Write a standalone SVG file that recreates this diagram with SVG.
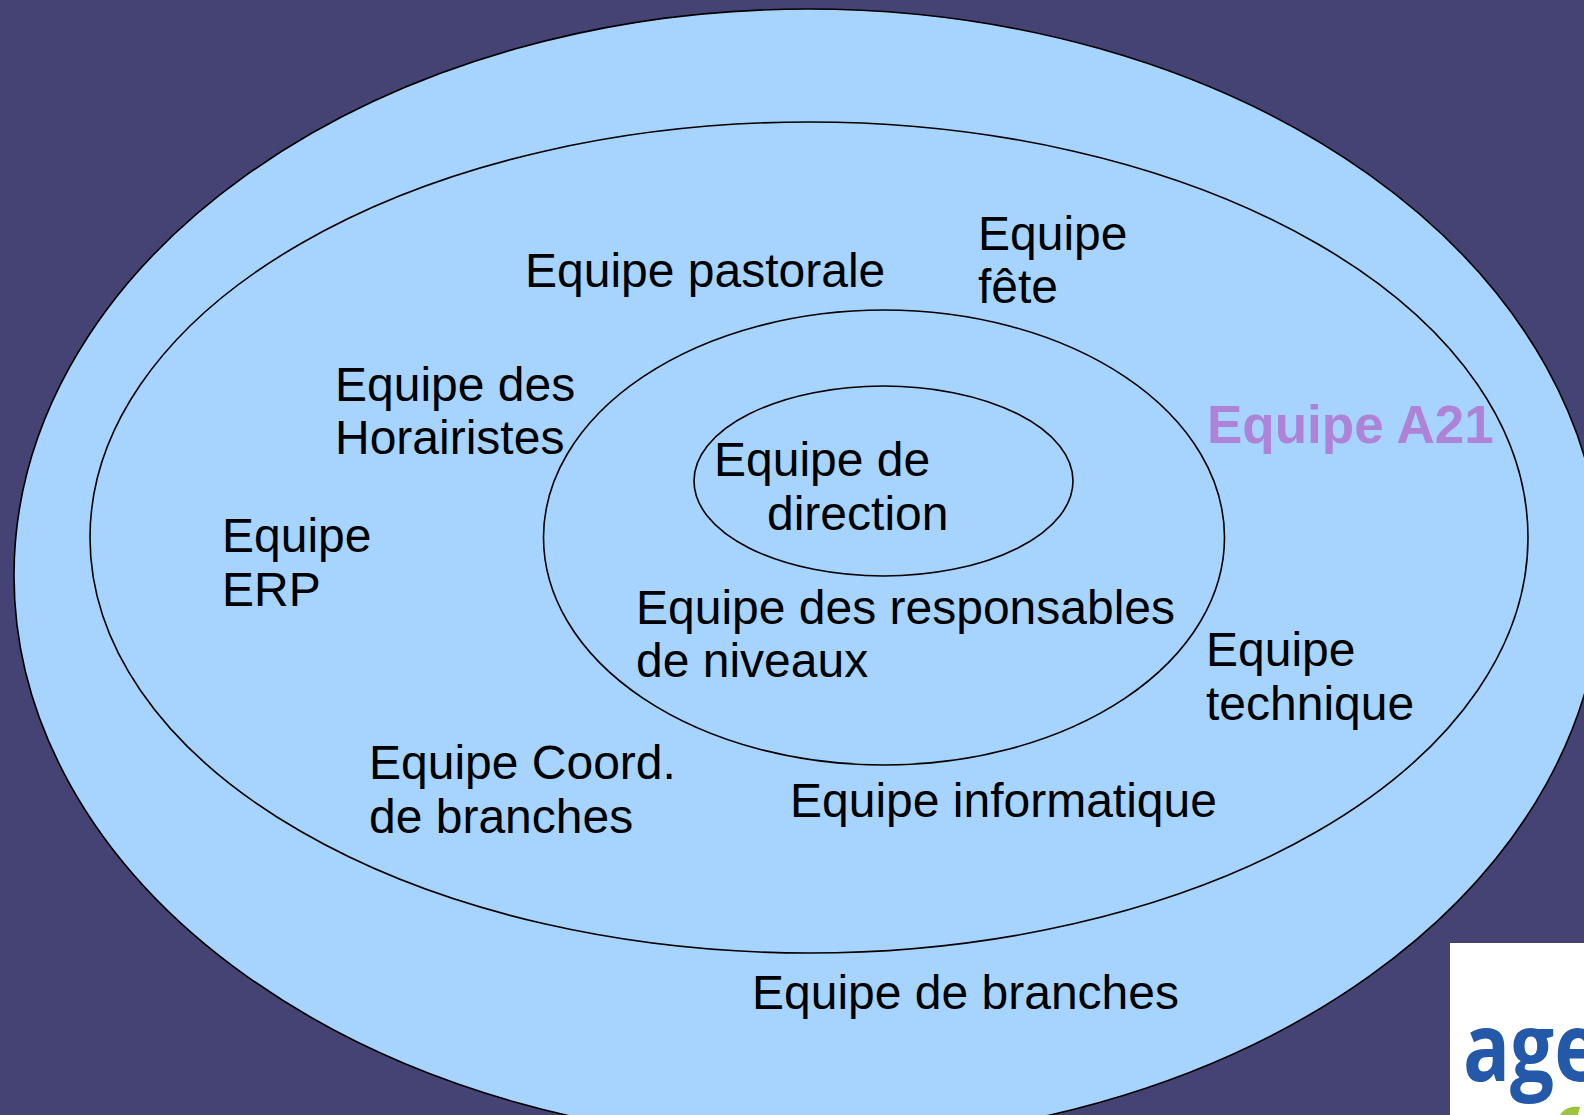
<svg xmlns="http://www.w3.org/2000/svg" width="1584" height="1115" viewBox="0 0 1584 1115">
<style>
.e{fill:#a6d4ff;stroke:#000;stroke-width:1.6}
.t{font-family:"Liberation Sans",Arial,sans-serif;font-size:48px;fill:#000}
.a{font-family:"Liberation Sans",Arial,sans-serif;font-size:53px;font-weight:bold;fill:#ae82d6}
</style>
<rect width="1584" height="1115" fill="#444374"/>
<g id="ellipse-branches"><ellipse class="e" cx="808" cy="575.5" rx="794" ry="566.5"/></g>
<g id="ellipse-middle"><ellipse class="e" cx="809" cy="537.5" rx="719" ry="415.5"/></g>
<g id="ellipse-niveaux"><ellipse class="e" cx="884" cy="537.5" rx="340.5" ry="227.5"/></g>
<g id="ellipse-direction"><ellipse class="e" cx="883.5" cy="481" rx="189.5" ry="95"/></g>
<g id="label-pastorale"><text class="t" x="525" y="287">Equipe pastorale</text></g>
<g id="label-fete"><text class="t" x="978" y="250">Equipe</text><text class="t" x="978" y="303">fête</text></g>
<g id="label-horairistes"><text class="t" x="335" y="401">Equipe des</text><text class="t" x="335" y="454">Horairistes</text></g>
<g id="label-a21"><text class="a" x="1207" y="443">Equipe A21</text></g>
<g id="label-direction"><text class="t" x="714" y="476">Equipe de</text><text class="t" x="767" y="530">direction</text></g>
<g id="label-erp"><text class="t" x="222" y="552">Equipe</text><text class="t" x="222" y="606">ERP</text></g>
<g id="label-responsables"><text class="t" x="636" y="624">Equipe des responsables</text><text class="t" x="636" y="677">de niveaux</text></g>
<g id="label-technique"><text class="t" x="1206" y="666">Equipe</text><text class="t" x="1206" y="720">technique</text></g>
<g id="label-coord"><text class="t" x="369" y="779">Equipe Coord.</text><text class="t" x="369" y="833">de branches</text></g>
<g id="label-informatique"><text class="t" x="790" y="817">Equipe informatique</text></g>
<g id="label-branches"><text class="t" x="752" y="1009">Equipe de branches</text></g>
<g id="logo">
<rect x="1450" y="943" width="134" height="172" fill="#fff"/>
<text transform="translate(1463 1081) scale(1 1.22)" font-family="'Open Sans','Liberation Sans',sans-serif" font-size="78" font-weight="bold" fill="#2458a8">age</text>
<path d="M1560 1115C1564 1108 1572 1106 1580 1107L1578 1115Z" fill="#9cc43c"/>
</g>
</svg>
